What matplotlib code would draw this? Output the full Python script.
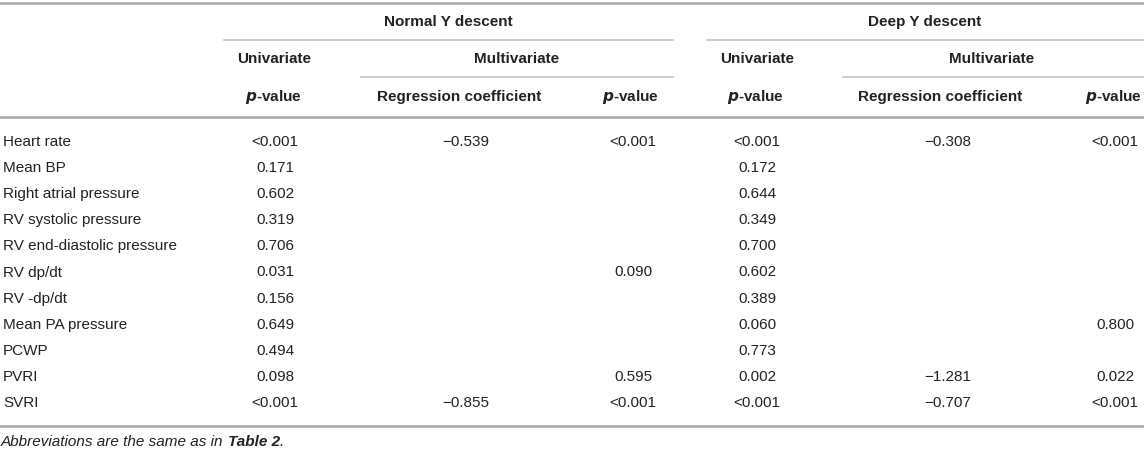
import matplotlib
matplotlib.use("Agg")
import matplotlib.pyplot as plt

plt.rcParams['font.family'] = ['Liberation Sans', 'DejaVu Sans']

# table data
row_labels = ["Heart rate", "Mean BP", "Right atrial pressure", "RV systolic pressure",
              "RV end-diastolic pressure", "RV dp/dt", "RV -dp/dt", "Mean PA pressure",
              "PCWP", "PVRI", "SVRI"]
normal_uni_p = ["<0.001", "0.171", "0.602", "0.319", "0.706", "0.031", "0.156",
                "0.649", "0.494", "0.098", "<0.001"]
normal_multi_coef = ["\u22120.539", "", "", "", "", "", "", "", "", "", "\u22120.855"]
normal_multi_p = ["<0.001", "", "", "", "", "0.090", "", "", "", "0.595", "<0.001"]
deep_uni_p = ["<0.001", "0.172", "0.644", "0.349", "0.700", "0.602", "0.389",
              "0.060", "0.773", "0.002", "<0.001"]
deep_multi_coef = ["\u22120.308", "", "", "", "", "", "", "", "", "\u22121.281", "\u22120.707"]
deep_multi_p = ["<0.001", "", "", "", "", "", "", "0.800", "", "0.022", "<0.001"]

group_titles = ["Normal Y descent", "Deep Y descent"]
footnote = "Abbreviations are the same as in "

W, H = 1144, 450
fig = plt.figure(figsize=(W / 100, H / 100), dpi=100)
ax = fig.add_axes([0, 0, 1, 1])
ax.set_xlim(0, W)
ax.set_ylim(H, 0)
ax.axis("off")

txt = "#222222"
fs = 11.0
line_dark = "#a6a6a6"
line_light = "#c4c4c4"

col_x = [275, 466, 633, 757, 948, 1115]

# rules
ax.plot([0, W], [3, 3], color=line_dark, lw=1.8)
ax.plot([224, 673], [40, 40], color=line_light, lw=1.2)
ax.plot([707, W], [40, 40], color=line_light, lw=1.2)
ax.plot([361, 673], [77, 77], color=line_light, lw=1.2)
ax.plot([843, W], [77, 77], color=line_light, lw=1.2)
ax.plot([0, W], [117, 117], color=line_dark, lw=1.8)
ax.plot([0, W], [426, 426], color=line_dark, lw=1.8)

# headers
hdr = dict(ha="center", va="center", fontsize=fs, fontweight="bold", color=txt)
ax.text(448, 22, group_titles[0], **hdr)
ax.text(925, 22, group_titles[1], **hdr)
ax.text(274, 59, "Univariate", **hdr)
ax.text(757, 59, "Univariate", **hdr)
ax.text(517, 59, "Multivariate", **hdr)
ax.text(992, 59, "Multivariate", **hdr)
ax.text(459, 97, "Regression coefficient", **hdr)
ax.text(940, 97, "Regression coefficient", **hdr)
for x in (273, 630, 755, 1113):
    ax.text(x, 97, r"$\bfit{p}$" + "-value", **hdr)

# body
columns = [normal_uni_p, normal_multi_coef, normal_multi_p,
           deep_uni_p, deep_multi_coef, deep_multi_p]
for i, lab in enumerate(row_labels):
    y = 142 + i * 26.1
    ax.text(3, y, lab, ha="left", va="center", fontsize=fs, color=txt)
    for x, col in zip(col_x, columns):
        if col[i]:
            ax.text(x, y, col[i], ha="center", va="center", fontsize=fs, color=txt)

# footnote
t1 = ax.text(1, 442, footnote, ha="left", va="center", fontsize=fs, style="italic", color=txt)
fig.canvas.draw()
bb = t1.get_window_extent()
x2 = ax.transData.inverted().transform((bb.x1, 0))[0]
t2 = ax.text(x2, 442, "Table 2", ha="left", va="center", fontsize=fs, style="italic",
             fontweight="bold", color=txt)
bb2 = t2.get_window_extent()
x3 = ax.transData.inverted().transform((bb2.x1, 0))[0]
ax.text(x3, 442, ".", ha="left", va="center", fontsize=fs, style="italic", color=txt)

plt.savefig("out.png", dpi=100)
